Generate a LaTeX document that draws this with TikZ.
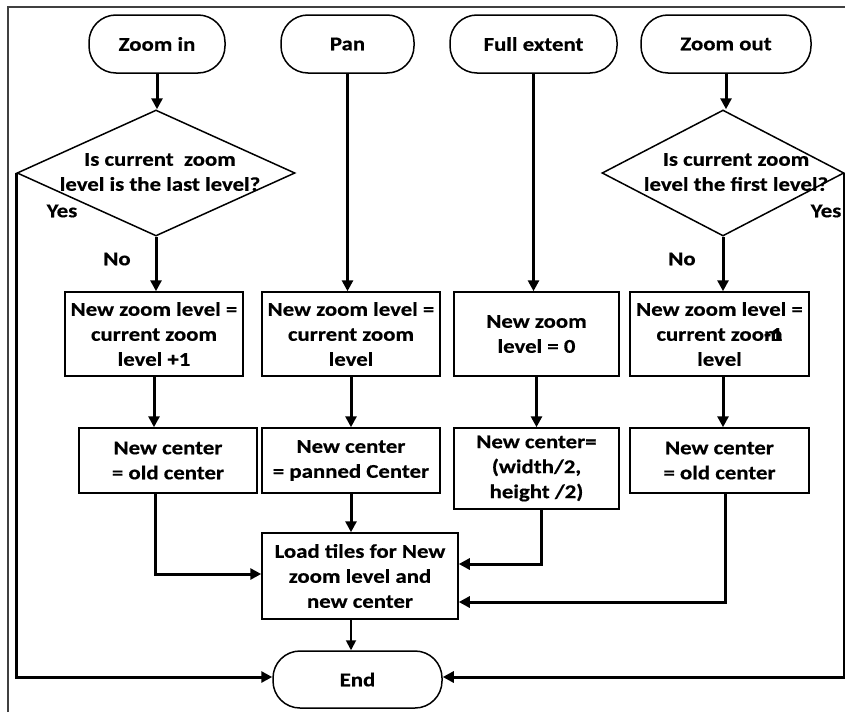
\documentclass[tikz,border=0pt]{standalone}
\usepackage{fontspec}
\setmainfont{Carlito}[FakeStretch=1.17,BoldFeatures={FakeBold=0.5}]
\usetikzlibrary{arrows.meta,shapes.geometric}
\begin{document}
\begin{tikzpicture}[x=1pt,y=-1pt,
  every node/.style={font=\fontsize{19.5}{25}\selectfont\bfseries},
  term/.style={draw,line width=1.5pt,rounded corners=27pt,minimum height=58pt,inner sep=0pt},
  box/.style={draw,line width=1.5pt,align=center,inner sep=0pt},
  dia/.style={draw,diamond,line width=1.5pt,inner sep=0pt},
  txt/.style={align=center,inner sep=0pt},
  arr/.style={line width=3pt,-{Triangle[length=11pt,width=11pt]}},
  arrthin/.style={line width=1.8pt,-{Triangle[length=10pt,width=10pt]}},
]
\useasboundingbox (0,0) rectangle (845,712);
\draw[line width=1.6pt,black!75] (8,712) -- (8,7) -- (845,7);

% terminals
\node[term,minimum width=136pt] (zin)  at (157,44)   {Zoom in};
\node[term,minimum width=133pt] (pan)  at (347.5,44) {Pan};
\node[term,minimum width=167pt] (full) at (533.5,44) {Full extent};
\node[term,minimum width=170pt] (zout) at (726,44)   {Zoom out};

% decisions
\node[dia,minimum width=278pt,minimum height=126pt] (d1) at (156,173) {};
\node[txt] (d1t) at (160,172) {Is current\ \ zoom\\level is the last level?};
\node[dia,minimum width=242pt,minimum height=126pt] (d2) at (723,173) {};
\node[txt] (d2t) at (736,172) {Is current zoom\\level the first level?};

% row 1
\node[box,minimum width=178pt,minimum height=84pt] (r1a) at (154,334) {New zoom level =\\current zoom\\level +1};
\node[box,minimum width=178pt,minimum height=84pt] (r1b) at (351,334) {New zoom level =\\current zoom\\level};
\node[box,minimum width=165pt,minimum height=84pt] (r1c) at (536.5,334) {New zoom\\level = 0};
\node[box,minimum width=179pt,minimum height=84pt] (r1d) at (719.5,334) {New zoom level =\\current zoom\llap{-1}\\level};

% row 2
\node[box,minimum width=178pt,minimum height=65pt] (r2a) at (168,460.5) {New center\\= old center};
\node[box,minimum width=178pt,minimum height=65pt] (r2b) at (351,460.5) {New center\\= panned Center};
\node[box,minimum width=165pt,minimum height=81pt] (r2c) at (536.5,468.5) {New center=\\(width/2,\\height /2)};
\node[box,minimum width=179pt,minimum height=65pt] (r2d) at (719.5,460.5) {New center\\= old center};

% load & end
\node[box,minimum width=196pt,minimum height=86pt] (load) at (360,576) {Load tiles for New\\zoom level and\\new center};
\node[term,minimum width=169pt,minimum height=57pt] (end) at (357.5,679.5) {End};

% labels
\node (y1) at (62,211) {Yes};
\node (n1) at (117,259) {No};
\node (n2) at (682,259) {No};
\node (y2) at (826,211) {Yes};

% column 1
\draw[arr] (zin.south) -- (zin.south |- d1.north);
\draw[arr] (d1.south) -- (d1.south |- r1a.north);
\draw[arr] (r1a.south) -- (r1a.south |- r2a.north);
\coordinate (j1) at (155,574);
\draw[arr] (r2a.south -| j1) -- (j1) -- (j1 -| load.west);
% column 2
\draw[arr] (pan.south) -- (pan.south |- r1b.north);
\draw[arr] (r1b.south) -- (r1b.south |- r2b.north);
\draw[arr] (r2b.south) -- (r2b.south |- load.north);
% column 3
\draw[arr] (full.south) -- (full.south |- r1c.north);
\draw[arr] (r1c.south) -- (r1c.south |- r2c.north);
\coordinate (j3) at (541,564);
\draw[arr] (r2c.south -| j3) -- (j3) -- (j3 -| load.east);
% column 4
\draw[arr] (zout.south) -- (zout.south |- d2.north);
\draw[arr] (d2.south) -- (d2.south |- r1d.north);
\draw[arr] (r1d.south -| d2.south) -- (r2d.north -| d2.south);
\coordinate (j4) at (725,602);
\draw[arr] (r2d.south -| j4) -- (j4) -- (j4 -| load.east);
% load to end
\coordinate (j5) at (351,0);
\draw[arrthin] (load.south -| j5) -- (end.north -| j5);
% yes branches
\coordinate (yl) at (17,677);
\draw[arr] (d1.west) -- (d1.west |- yl) -- (yl -| end.west);
\draw[arr] (d2.east) -- (d2.east |- yl) -- (yl -| end.east);
\end{tikzpicture}
\end{document}
